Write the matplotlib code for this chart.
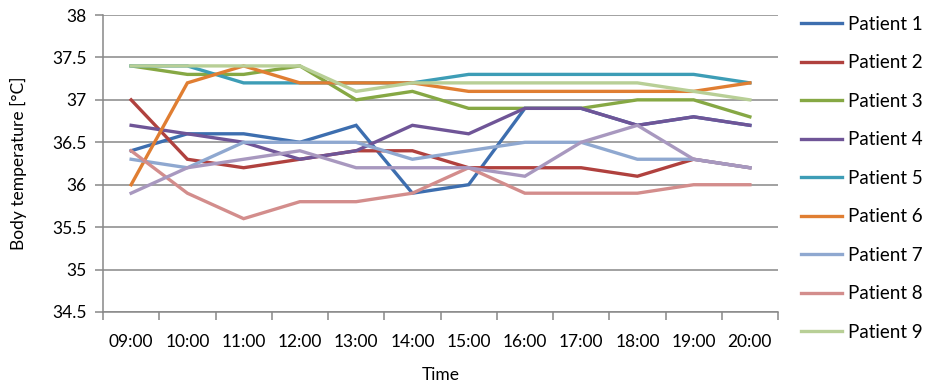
import matplotlib.pyplot as plt

plt.rcParams['font.family'] = ['Lato', 'DejaVu Sans']

# hourly temperature readings per patient
times = ["09:00", "10:00", "11:00", "12:00", "13:00", "14:00",
         "15:00", "16:00", "17:00", "18:00", "19:00", "20:00"]

patient_1 = [36.4, 36.6, 36.6, 36.5, 36.7, 35.9, 36.0, 36.9, 36.9, 36.7, 36.8, 36.7]
patient_2 = [37.0, 36.3, 36.2, 36.3, 36.4, 36.4, 36.2, 36.2, 36.2, 36.1, 36.3, 36.2]
patient_3 = [37.4, 37.3, 37.3, 37.4, 37.0, 37.1, 36.9, 36.9, 36.9, 37.0, 37.0, 36.8]
patient_4 = [36.7, 36.6, 36.5, 36.3, 36.4, 36.7, 36.6, 36.9, 36.9, 36.7, 36.8, 36.7]
patient_5 = [37.4, 37.4, 37.2, 37.2, 37.2, 37.2, 37.3, 37.3, 37.3, 37.3, 37.3, 37.2]
patient_6 = [36.0, 37.2, 37.4, 37.2, 37.2, 37.2, 37.1, 37.1, 37.1, 37.1, 37.1, 37.2]
patient_7 = [36.3, 36.2, 36.5, 36.5, 36.5, 36.3, 36.4, 36.5, 36.5, 36.3, 36.3, 36.2]
patient_8 = [36.4, 35.9, 35.6, 35.8, 35.8, 35.9, 36.2, 35.9, 35.9, 35.9, 36.0, 36.0]
patient_9 = [37.4, 37.4, 37.4, 37.4, 37.1, 37.2, 37.2, 37.2, 37.2, 37.2, 37.1, 37.0]
patient_10 = [35.9, 36.2, 36.3, 36.4, 36.2, 36.2, 36.2, 36.1, 36.5, 36.7, 36.3, 36.2]

series = [patient_1, patient_2, patient_3, patient_4, patient_5,
          patient_6, patient_7, patient_8, patient_9, patient_10]
names = ["Patient %d" % (i + 1) for i in range(len(series))]
colors = ['#3D6EAF', '#B0413E', '#86A844', '#6F5597', '#3D9DB6',
          '#E07E32', '#8FA8D0', '#D38D8C', '#B8CF96', '#A898BF']

grey = '#888888'

fig = plt.figure(figsize=(9.3, 3.84), dpi=100)
ax = fig.add_axes([103 / 930, 1 - 312 / 384, 675 / 930, 297 / 384])

x = list(range(len(times)))
lines = []
for vals, name, c in zip(series, names, colors):
    l, = ax.plot(x, vals, color=c, lw=2.4, label=name, solid_joinstyle='miter')
    lines.append(l)

ax.set_xlim(-0.5, len(times) - 0.5)
ax.set_ylim(34.5, 38)
ax.set_yticks([34.5, 35, 35.5, 36, 36.5, 37, 37.5, 38])
ax.set_yticklabels(["34.5", "35", "35.5", "36", "36.5", "37", "37.5", "38"])
ax.yaxis.grid(True, color=grey, lw=1.1)
ax.set_axisbelow(True)

# category labels in the middle, tick marks on the boundaries
ax.set_xticks(x)
ax.set_xticklabels(times)
ax.tick_params(axis='x', which='major', length=0, pad=16, labelsize=12.5)
ax.set_xticks([i - 0.5 for i in range(len(times) + 1)], minor=True)
ax.tick_params(axis='x', which='minor', length=6, color=grey, width=1.1)
ax.tick_params(axis='y', length=6, color=grey, width=1.1, labelsize=12.5, pad=6)

for side in ['top', 'right']:
    ax.spines[side].set_visible(False)
for side in ['left', 'bottom']:
    ax.spines[side].set_color(grey)
    ax.spines[side].set_linewidth(1.1)

ax.set_xlabel("Time", fontsize=12.5, labelpad=12)
ax.set_ylabel("Body temperature [°C]", fontsize=12.5, labelpad=18)

# legend only has room for the first nine patients
fig.legend(lines[:9], names[:9], loc='upper left', bbox_to_anchor=(793 / 930, 1 - 8 / 384),
           frameon=False, fontsize=13.5, handlelength=2.2, handletextpad=0.32,
           labelspacing=1.15, borderaxespad=0)

fig.savefig("out.png", dpi=100)
